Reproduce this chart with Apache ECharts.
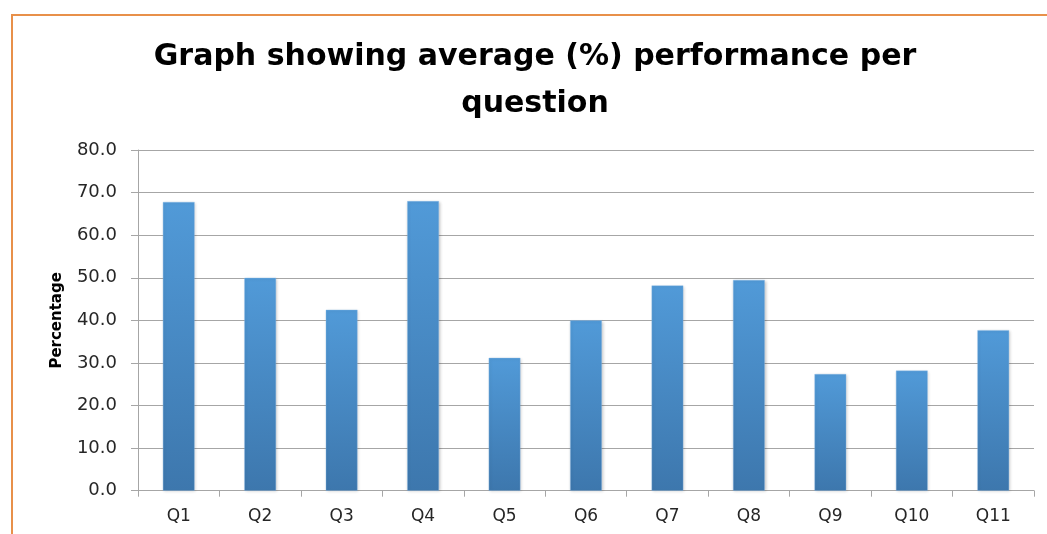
<!DOCTYPE html>
<html>
<head>
<meta charset="utf-8">
<title>Average performance per question</title>
<script src="https://cdn.jsdelivr.net/npm/echarts@6/dist/echarts.min.js"></script>
<style>
  html, body { margin: 0; padding: 0; background: #ffffff; }
  #chart { width: 1047px; height: 534px; }
</style>
</head>
<body>
<div id="chart"></div>
<script>
// Question labels along the category axis
const questions = ['Q1', 'Q2', 'Q3', 'Q4', 'Q5', 'Q6', 'Q7', 'Q8', 'Q9', 'Q10', 'Q11'];
// Average score (%) for each question
const averagePercent = [67.8, 50.0, 42.5, 68.0, 31.2, 40.0, 48.2, 49.5, 27.4, 28.2, 37.7];

const titleText = 'Graph showing average (%) performance per\nquestion';
const axisName = 'Percentage';

const chart = echarts.init(document.getElementById('chart'), null, { renderer: 'canvas' });

chart.setOption({
  backgroundColor: '#ffffff',
  animation: false,
  graphic: [
    // Orange frame around the chart area
    {
      type: 'rect',
      silent: true,
      shape: { x: 12, y: 15, width: 1100, height: 600 },
      style: { fill: 'none', stroke: '#E8904A', lineWidth: 2 }
    },
    // Two-line chart title
    {
      type: 'text',
      silent: true,
      x: 535,
      y: 34,
      style: {
        text: titleText,
        align: 'center',
        verticalAlign: 'top',
        fontFamily: 'DejaVu Sans',
        fontWeight: 'bold',
        fontSize: 30,
        lineHeight: 47,
        fill: '#000000'
      }
    }
  ],
  grid: {
    left: 138,
    right: 13,
    top: 150,
    bottom: 43.3,
    containLabel: false
  },
  xAxis: {
    type: 'category',
    data: questions,
    boundaryGap: true,
    axisLine: { show: true, lineStyle: { color: '#a6a6a6', width: 1 } },
    axisTick: { show: true, length: 6, alignWithLabel: false, lineStyle: { color: '#a6a6a6' } },
    axisLabel: {
      margin: 17,
      fontFamily: 'DejaVu Sans',
      fontSize: 17,
      color: '#262626'
    },
    splitLine: { show: false }
  },
  yAxis: {
    type: 'value',
    min: 0,
    max: 80,
    interval: 10,
    name: axisName,
    nameLocation: 'middle',
    nameGap: 73,
    nameRotate: 90,
    nameTextStyle: {
      fontFamily: 'DejaVu Sans',
      fontWeight: 'bold',
      fontSize: 15,
      color: '#000000'
    },
    axisLine: { show: true, lineStyle: { color: '#a6a6a6', width: 1 } },
    axisTick: { show: true, length: 7, lineStyle: { color: '#a6a6a6' } },
    axisLabel: {
      margin: 21,
      fontFamily: 'DejaVu Sans',
      fontSize: 18,
      color: '#262626',
      formatter: v => v.toFixed(1)
    },
    splitLine: { show: true, lineStyle: { color: '#a6a6a6', width: 1 } }
  },
  series: [{
    type: 'bar',
    data: averagePercent,
    barWidth: '39%',
    itemStyle: {
      color: new echarts.graphic.LinearGradient(0, 0, 0, 1, [
        { offset: 0, color: '#519AD8' },
        { offset: 1, color: '#3D77AD' }
      ]),
      borderColor: 'rgba(140,190,235,0.7)',
      borderWidth: 0.5,
      shadowColor: 'rgba(0,0,0,0.22)',
      shadowBlur: 3,
      shadowOffsetX: 1,
      shadowOffsetY: 1
    }
  }]
});
</script>
</body>
</html>
